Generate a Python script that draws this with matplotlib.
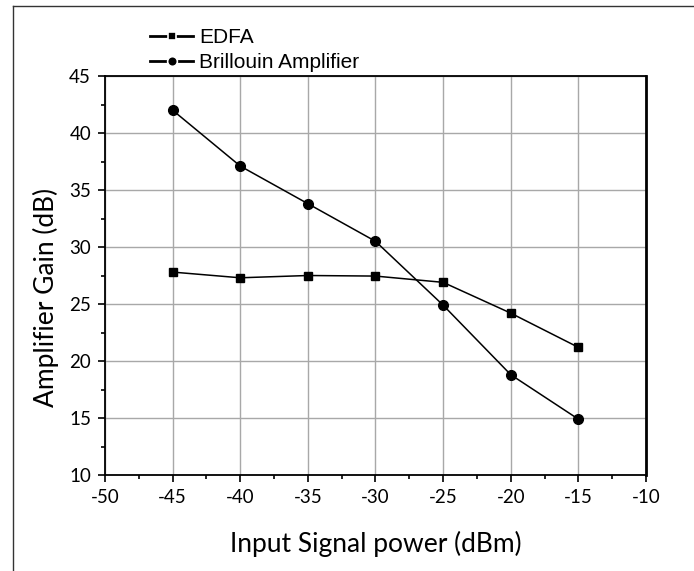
import matplotlib.pyplot as plt
from matplotlib.lines import Line2D
from matplotlib.ticker import MultipleLocator

plt.rcParams['axes.unicode_minus'] = False

input_power = [-45, -40, -35, -30, -25, -20, -15]
edfa_gain = [27.8, 27.3, 27.5, 27.45, 26.9, 24.2, 21.2]
brillouin_gain = [42.0, 37.1, 33.8, 30.5, 24.9, 18.8, 14.9]

fig = plt.figure(figsize=(6.94, 5.71), dpi=100)
ax = fig.add_axes([0.1513, 0.1681, 0.7795, 0.6988])

# outer frame, only left and top edges are inside the picture
fx = 13 / 694
fy = 1 - 5.5 / 571
fig.add_artist(Line2D([fx, fx], [0, fy], transform=fig.transFigure, color='#333333', linewidth=1.0))
fig.add_artist(Line2D([fx, 1], [fy, fy], transform=fig.transFigure, color='#333333', linewidth=1.0))

ax.plot(input_power, edfa_gain, color='black', linewidth=1.1, marker='s', markersize=6, label='EDFA')
ax.plot(input_power, brillouin_gain, color='black', linewidth=1.1, marker='o', markersize=7,
        label='Brillouin Amplifier')

ax.set_xlim(-50, -10)
ax.set_ylim(10, 45)
ax.xaxis.set_major_locator(MultipleLocator(5))
ax.xaxis.set_minor_locator(MultipleLocator(2.5))
ax.yaxis.set_major_locator(MultipleLocator(5))
ax.yaxis.set_minor_locator(MultipleLocator(2.5))
ax.grid(True, which='major', color='#a8a8a8', linewidth=1.0)
ax.set_axisbelow(True)

ax.tick_params(which='major', direction='out', length=5, width=1.2, labelsize=13.5, pad=5)
ax.tick_params(which='minor', direction='out', length=3, width=1.2)
for lab in ax.get_xticklabels() + ax.get_yticklabels():
    lab.set_family('Lato')
for sp in ax.spines.values():
    sp.set_linewidth(1.3)
ax.spines['right'].set_linewidth(2.0)

ax.set_xlabel('Input Signal power (dBm)', fontsize=19, family='Lato', labelpad=18)
ax.set_ylabel('Amplifier Gain (dB)', fontsize=19, family='Lato')
ax.yaxis.set_label_coords(-0.085, 0.446)

# legend handles: thick dash, small marker with a little gap
handles = [Line2D([], [], color='black', linewidth=2.0, marker='s', markersize=6,
                  markeredgecolor='white', markeredgewidth=1.2),
           Line2D([], [], color='black', linewidth=2.0, marker='o', markersize=7,
                  markeredgecolor='white', markeredgewidth=1.2)]
leg = ax.legend(handles, ['EDFA', 'Brillouin Amplifier'], loc='lower left', bbox_to_anchor=(0.08, 1.005),
                frameon=False, prop={'family': 'Liberation Sans', 'size': 15}, handlelength=2.05,
                handletextpad=0.3, labelspacing=0.28, borderaxespad=0, borderpad=0.1)

fig.savefig('out.png', dpi=100)
